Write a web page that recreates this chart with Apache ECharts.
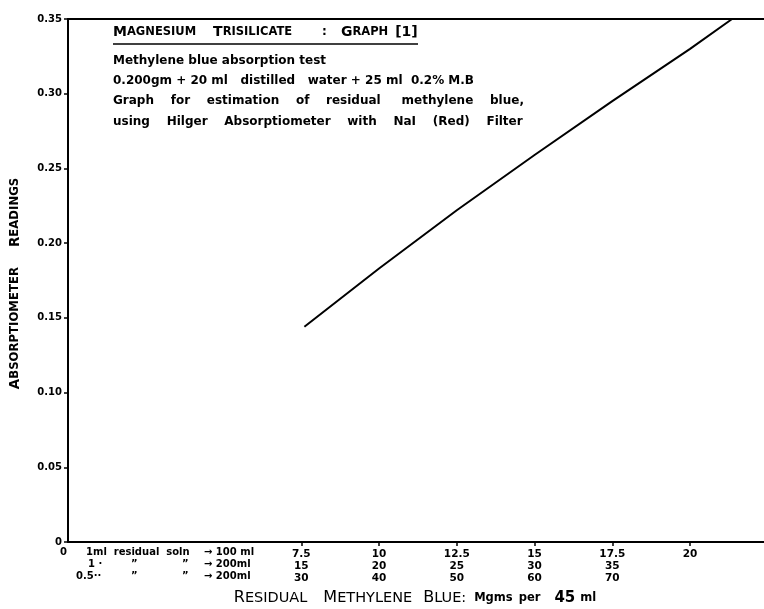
<!DOCTYPE html>
<html><head><meta charset="utf-8">
<script src="https://cdn.jsdelivr.net/npm/echarts@6/dist/echarts.min.js"></script>
<style>html,body{margin:0;padding:0;background:#fff}#c{width:764px;height:609px}</style>
</head><body><div id="c"></div>
<script>
// Data
const xValues = [7.6, 10, 12.5, 15, 17.5, 20, 21.35];
const yValues = [0.144, 0.183, 0.222, 0.259, 0.295, 0.330, 0.350];
const xTickValues = [7.5, 10, 12.5, 15, 17.5, 20];
const xRow1 = ['7.5', '10', '12.5', '15', '17.5', '20'];
const xRow2 = ['15', '20', '25', '30', '35', ''];
const xRow3 = ['30', '40', '50', '60', '70', ''];
const notes = [
  'Methylene blue absorption test',
  '0.200gm + 20 ml   distilled   water + 25 ml  0.2% M.B',
  'Graph    for    estimation    of    residual     methylene    blue,',
  'using    Hilger    Absorptiometer    with    NaI    (Red)    Filter'
];

const FONT = '"DejaVu Sans", sans-serif';

function scWord(w, big, small) {
  return '{' + big + '|' + w[0].toUpperCase() + '}' + (w.length > 1 ? '{' + small + '|' + w.slice(1).toUpperCase() + '}' : '');
}
function gap(n) { return '{g' + n + '| }'; }
function gapStyles(list) {
  const o = {};
  list.forEach(n => { o['g' + n] = { width: n, fontSize: 10 }; });
  return o;
}

const xName = scWord('Residual', 'nb', 'ns') + gap(16) + scWord('Methylene', 'nb', 'ns') + gap(11) +
  scWord('Blue:', 'nb', 'ns') + gap(8) + '{nm|Mgms}' + gap(6) + '{nm|per}' + gap(14) + '{nn|45}' + gap(5) + '{nm|ml}' + gap(22);

const chart = echarts.init(document.getElementById('c'));
const option = {
  backgroundColor: '#fff',
  animation: false,
  grid: { left: 68, right: -20, top: 19, bottom: 67, show: false, outerBoundsMode: 'none', containLabel: false },
  xAxis: [{
    type: 'value', min: 0, max: 23.02,
    splitLine: { show: false },
    axisLine: { show: true, onZero: false, lineStyle: { color: '#000', width: 2 } },
    axisTick: { show: true, customValues: xTickValues, length: 4, lineStyle: { color: '#000', width: 1.5 } },
    axisLabel: {
      customValues: xTickValues,
      margin: 6,
      fontFamily: FONT, fontSize: 10.5, color: '#000', fontWeight: 'bold', lineHeight: 12,
      formatter: function (v) {
        const i = xTickValues.indexOf(v);
        if (i < 0) return '';
        return xRow1[i] + '\n' + xRow2[i] + '\n' + xRow3[i];
      }
    },
    name: xName,
    nameLocation: 'middle', nameGap: 48,
    nameTextStyle: {
      rich: Object.assign({
        nb: { fontFamily: FONT, fontSize: 16, color: '#000' },
        ns: { fontFamily: FONT, fontSize: 14.5, color: '#000' },
        nm: { fontFamily: FONT, fontSize: 11.5, color: '#000', fontWeight: 'bold' },
        nn: { fontFamily: FONT, fontSize: 15, color: '#000', fontWeight: 'bold' }
      }, gapStyles([5, 6, 8, 11, 14, 16, 22]))
    }
  }, {
    type: 'value', min: 0, max: 23.02, position: 'top',
    splitLine: { show: false },
    axisLine: { show: true, onZero: false, lineStyle: { color: '#000', width: 2 } },
    axisTick: { show: false }, axisLabel: { show: false }
  }],
  yAxis: {
    type: 'value', min: 0, max: 0.35, interval: 0.05,
    splitLine: { show: false },
    axisLine: { show: true, lineStyle: { color: '#000', width: 2 } },
    axisTick: { show: true, length: 4, lineStyle: { color: '#000', width: 1.5 } },
    axisLabel: {
      fontFamily: FONT, fontSize: 10, color: '#000', fontWeight: 'bold', margin: 6,
      formatter: v => v === 0 ? '0' : v.toFixed(2)
    },
    name: scWord('Absorptiometer', 'nb', 'ns') + gap(20) + scWord('Readings', 'nb', 'ns') + gap(6),
    nameLocation: 'middle', nameRotate: 90, nameGap: 46,
    nameTextStyle: {
      rich: Object.assign({
        nb: { fontFamily: FONT, fontSize: 13.5, color: '#000', fontWeight: 'bold' },
        ns: { fontFamily: FONT, fontSize: 11.7, color: '#000', fontWeight: 'bold' }
      }, gapStyles([6, 20]))
    }
  },
  series: [{
    type: 'line',
    xAxisIndex: 0,
    data: xValues.map((x, i) => [x, yValues[i]]),
    symbol: 'none',
    lineStyle: { color: '#000', width: 2 },
    clip: false
  }],
  graphic: [
    {
      type: 'text', left: 113, top: 25,
      style: {
        text: scWord('Magnesium', 'tb', 'ts') + gap(17) + scWord('Trisilicate', 'tb', 'ts') + gap(30) + '{tc|:}' + gap(14) +
          scWord('Graph', 'tb', 'ts') + gap(7) + '{tb|[1]}',
        rich: Object.assign({
          tb: { fontFamily: FONT, fontSize: 14, color: '#000', fontWeight: 'bold' },
          ts: { fontFamily: FONT, fontSize: 11.5, color: '#000', fontWeight: 'bold' },
          tc: { fontFamily: FONT, fontSize: 12, color: '#000', fontWeight: 'bold' }
        }, gapStyles([7, 14, 17, 30]))
      }
    },
    { type: 'line', shape: { x1: 113, y1: 44, x2: 418, y2: 44 }, style: { stroke: '#000', lineWidth: 1.5 } },
    ...notes.map((t, i) => ({
      type: 'text', left: 113, top: [55, 75, 95, 116][i],
      style: { text: t, fontFamily: FONT, fontSize: 12, fontWeight: 'bold', fill: '#000' }
    })),
    { type: 'text', left: 60, top: 547, style: { text: '0', fontFamily: FONT, fontSize: 10, fontWeight: 'bold', fill: '#000' } },
    { type: 'text', left: 86, top: 547, style: { text: '1ml  residual  soln', fontFamily: FONT, fontSize: 10, fontWeight: 'bold', fill: '#000' } },
    { type: 'text', left: 88, top: 559, style: { text: '1 \u00b7', fontFamily: FONT, fontSize: 10, fontWeight: 'bold', fill: '#000' } },
    { type: 'text', left: 76, top: 571, style: { text: '0.5\u00b7\u00b7', fontFamily: FONT, fontSize: 10, fontWeight: 'bold', fill: '#000' } },
    ...[559, 571].map(y => ({ type: 'text', left: 131, top: y, style: { text: '\u201d', fontFamily: FONT, fontSize: 10, fontWeight: 'bold', fill: '#000' } })),
    ...[559, 571].map(y => ({ type: 'text', left: 182, top: y, style: { text: '\u201d', fontFamily: FONT, fontSize: 10, fontWeight: 'bold', fill: '#000' } })),
    ...['\u2192 100 ml', '\u2192 200ml', '\u2192 200ml'].map((t, i) => ({
      type: 'text', left: 204, top: 547 + i * 12,
      style: { text: t, fontFamily: FONT, fontSize: 10, fontWeight: 'bold', fill: '#000' }
    }))
  ]
};
chart.setOption(option);
</script>
</body></html>
